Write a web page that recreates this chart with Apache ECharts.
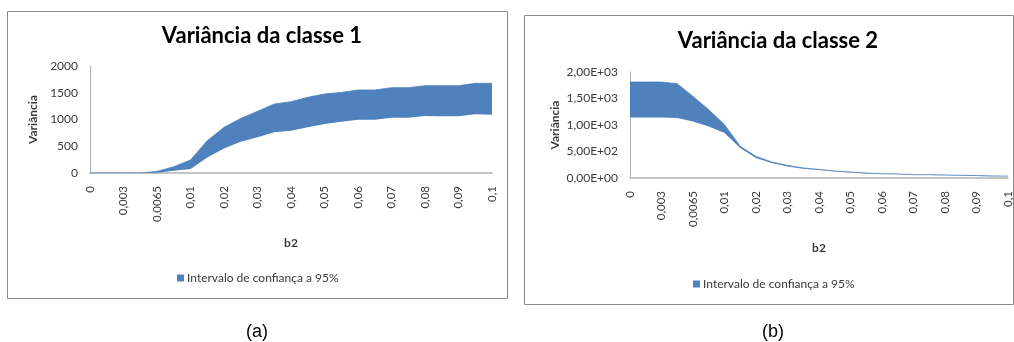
<!DOCTYPE html>
<html>
<head>
<meta charset="utf-8">
<script src="https://cdn.jsdelivr.net/npm/echarts@6/dist/echarts.min.js"></script>
<style>
  html, body { margin: 0; padding: 0; background: #ffffff; }
  #chart { width: 1014px; height: 342px; }
</style>
</head>
<body>
<div id="chart"></div>
<script>
// b2 values along the category axis (only every other one is labelled)
const categories = ['0', '0,0015', '0,003', '0,005', '0,0065', '0,008', '0,01', '0,015', '0,02', '0,025',
  '0,03', '0,035', '0,04', '0,045', '0,05', '0,055', '0,06', '0,065', '0,07', '0,075',
  '0,08', '0,085', '0,09', '0,095', '0,1'];

// Class 1 variance: 95% confidence interval bounds
const lower1 = [0, 0, 0, 0, 5, 43, 75, 292, 460, 585, 666, 760, 791, 853, 916, 959, 997, 997, 1034, 1034, 1066, 1060, 1060, 1096, 1090];
const upper1 = [0, 0, 0, 0, 30, 118, 243, 604, 853, 1021, 1152, 1290, 1333, 1414, 1477, 1507, 1552, 1552, 1595, 1595, 1632, 1632, 1632, 1676, 1676];

// Class 2 variance: 95% confidence interval bounds
const lower2 = [1143, 1143, 1143, 1132, 1068, 974, 849, 566, 377, 283, 219, 175, 151, 122, 104, 86, 74, 70, 56, 56, 52, 46, 40, 35, 30];
const upper2 = [1811, 1811, 1811, 1780, 1540, 1289, 1006, 597, 408, 302, 238, 189, 162, 132, 113, 94, 81, 77, 62, 62, 58, 51, 45, 40, 35];

const titles = ['Variância da classe 1', 'Variância da classe 2'];
const seriesName = 'Intervalo de confiança a 95%';
const yTicks = { min: 0, max: 2000, interval: 500 };

const FONT = 'Lato, "Open Sans", sans-serif';
const BAND = '#4f81bd';
const AXIS = '#b3b3b3';
const TEXT = '#3a3a3a';

// "2,00E+03" style tick labels
function sciLabel(v) {
  const s = Number(v).toExponential(2);          // e.g. 2.00e+3
  const parts = s.split('e');
  const mant = parts[0].replace('.', ',');
  const exp = parseInt(parts[1], 10);
  const sign = exp < 0 ? '-' : '+';
  const e = String(Math.abs(exp)).padStart(2, '0');
  return mant + 'E' + sign + e;
}

const panels = [
  { left: 90, width: 402, top: 66, height: 107, box: [7, 11, 500, 287], cx: 257, ty: 20, lower: lower1, upper: upper1, fmt: v => String(v), yGap: 51, caption: '(a)', legendY: 272, legendX: 177 },
  { left: 630, width: 380, top: 72, height: 106, box: [524, 15, 489, 289], cx: 773, ty: 25, lower: lower2, upper: upper2, fmt: sciLabel, yGap: 69, caption: '(b)', legendY: 278, legendX: 693 }
];

const chart = echarts.init(document.getElementById('chart'), null, { renderer: 'canvas' });

const option = {
  backgroundColor: '#ffffff',
  animation: false,
  title: panels.map((p, i) => ({
    text: titles[i],
    left: p.cx, top: p.ty,
    textAlign: 'center',
    textStyle: { fontFamily: FONT, fontSize: 22, fontWeight: 'bold', color: '#000000' }
  })),
  legend: panels.map((p) => ({
    data: [seriesName],
    left: p.legendX, top: p.legendY,
    padding: 0,
    icon: 'rect', itemWidth: 7, itemHeight: 7, itemGap: 4,
    selectedMode: false,
    itemStyle: { color: BAND },
    textStyle: { fontFamily: FONT, fontSize: 12, color: TEXT, padding: [0, 0, 0, -2] }
  })),
  grid: panels.map(p => ({ left: p.left, width: p.width, top: p.top, height: p.height, containLabel: false })),
  xAxis: panels.map((p, i) => ({
    type: 'category', gridIndex: i, data: categories, boundaryGap: false,
    name: 'b2', nameLocation: 'middle', nameGap: 64,
    nameTextStyle: { fontFamily: FONT, fontSize: 12, fontWeight: 'bold', color: TEXT },
    axisLine: { lineStyle: { color: AXIS, width: 1.5 } },
    axisTick: { show: false },
    axisLabel: { interval: 1, rotate: 90, margin: 13, fontFamily: FONT, fontSize: 11.5, color: TEXT }
  })),
  yAxis: panels.map((p, i) => ({
    type: 'value', gridIndex: i, min: yTicks.min, max: yTicks.max, interval: yTicks.interval,
    name: 'Variância', nameLocation: 'middle', nameRotate: 90, nameGap: p.yGap,
    nameTextStyle: { fontFamily: FONT, fontSize: 12, fontWeight: 'bold', color: TEXT },
    axisLine: { show: true, lineStyle: { color: AXIS, width: 1 } },
    axisTick: { show: false },
    splitLine: { show: false },
    axisLabel: { margin: 12, fontFamily: FONT, fontSize: 12, color: TEXT, formatter: p.fmt }
  })),
  series: panels.flatMap((p, i) => [
    {
      name: 'Limite inferior ' + (i + 1), type: 'line', xAxisIndex: i, yAxisIndex: i,
      stack: 'ic' + i, data: p.lower, showSymbol: false, symbol: 'none',
      lineStyle: { width: 0, opacity: 0 }, silent: true
    },
    {
      name: seriesName, type: 'line', xAxisIndex: i, yAxisIndex: i,
      stack: 'ic' + i, data: p.upper.map((u, k) => u - p.lower[k]),
      showSymbol: false, symbol: 'none',
      itemStyle: { color: BAND },
      lineStyle: { width: 0.8, color: BAND },
      areaStyle: { color: BAND, opacity: 1 }
    }
  ]),
  graphic: panels.flatMap(p => [
    {
      type: 'rect', silent: true, z: -1,
      shape: { x: p.box[0] + 0.5, y: p.box[1] + 0.5, width: p.box[2], height: p.box[3] },
      style: { fill: 'none', stroke: '#8a8a8a', lineWidth: 1 }
    },
    {
      type: 'text', silent: true,
      x: p.cx, y: 332,
      style: { text: p.caption, fontFamily: '"Liberation Sans", Arial, sans-serif', fontSize: 18, fill: '#000000', align: 'center', verticalAlign: 'middle' }
    }
  ])
};

chart.setOption(option);
</script>
</body>
</html>
